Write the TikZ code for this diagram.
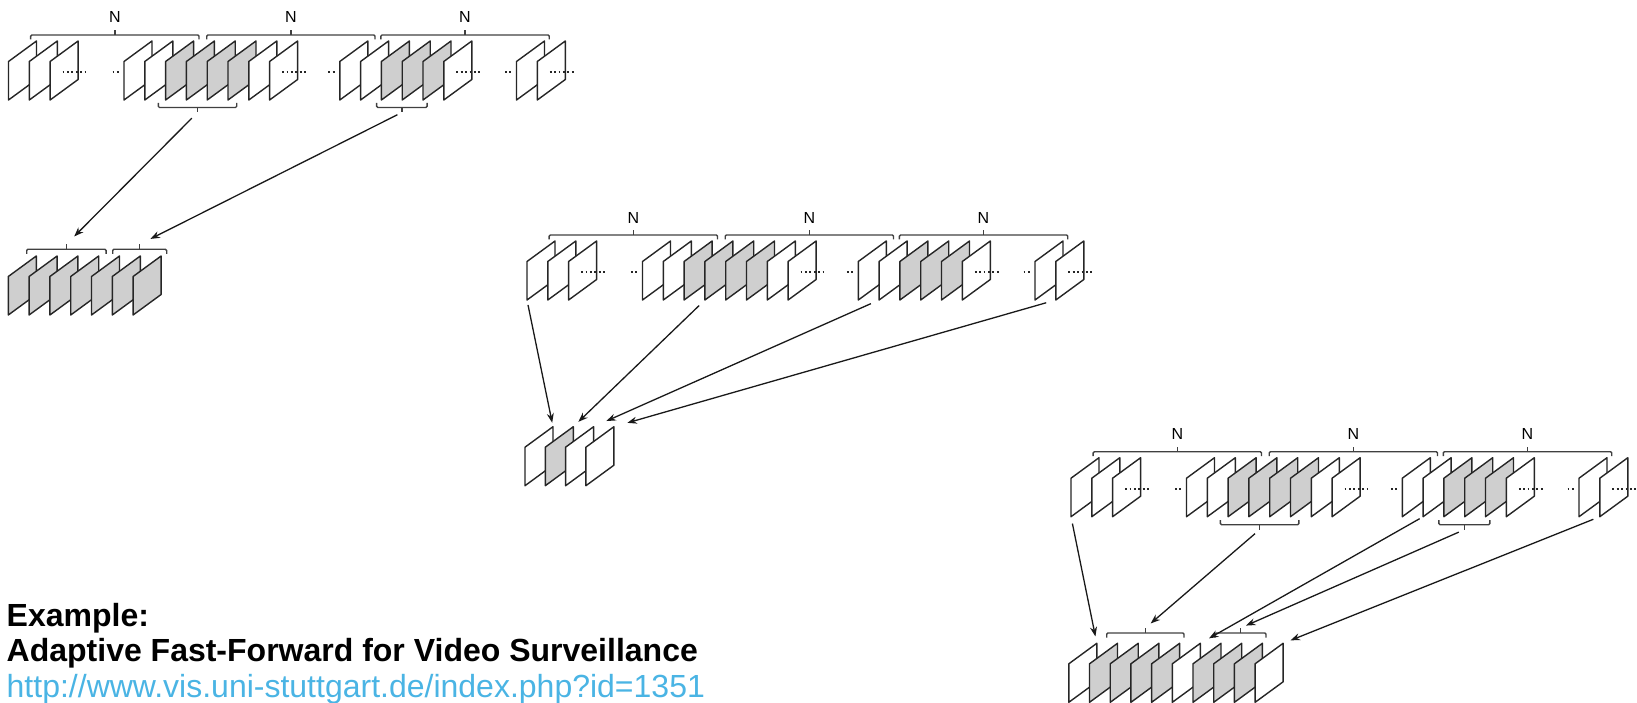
\documentclass[tikz,border=0pt]{standalone}
\usepackage{fontspec}
\setmainfont{Liberation Sans}
\usepackage{xcolor}
\usepackage{tikz}
\usetikzlibrary{arrows.meta,positioning,calc}
\definecolor{vidLine}{HTML}{262626}
\definecolor{vidGray}{HTML}{CFCFCF}
\definecolor{vidBrace}{HTML}{404040}
\definecolor{vidLink}{HTML}{4AB4E4}
\tikzset{
  frameEdge/.style={
    draw=vidLine,
    line width=1.4pt,
    line join=round
  },
  braceLine/.style={
    draw=vidBrace,
    line width=1.4pt,
    rounded corners=1.2pt
  },
  gapDots/.style={
    draw=vidLine,
    line width=1.8pt,
    dash pattern=on 1.8pt off 2.6pt
  },
  selArrow/.style={
    -{Stealth[length=9.5pt,width=7pt]},
    line width=1.3pt,
    draw=black!90
  },
  nLabel/.style={
    font=\fontsize{16}{18}\selectfont,
    inner sep=0pt
  },
  titleText/.style={
    font=\fontsize{32}{35}\selectfont\bfseries,
    inner sep=0pt,
    anchor=base west
  },
  linkText/.style={
    titleText,
    font=\fontsize{32}{35}\selectfont,
    text=vidLink
  },
  % one video frame, origin at its lower left corner
  pics/vidframe/.style={code={
    \path[frameEdge, fill=#1] (0,0) -- (0,-38.5) -- (28,-59) -- (28,-20.5) -- cycle;
    \coordinate (-bl) at (0,0);
    \coordinate (-tr) at (28,-59);
  }},
  pics/vidframe/.default=white,
  % bracket over frames, #1 = half width
  pics/topbrace/.style={code={
    \draw[braceLine] (-#1,4.5) -- (-#1,0) -- (#1,0) -- (#1,4.5);
    \draw[braceLine] (0,0) -- (0,-5);
    \coordinate (-tip) at (0,-5);
  }},
  % bracket under frames
  pics/lowbrace/.style={code={
    \draw[braceLine] (-#1,-4.5) -- (-#1,0) -- (#1,0) -- (#1,-4.5);
    \draw[braceLine] (0,0) -- (0,5);
    \coordinate (-tip) at (0,5);
  }},
  % the input video: blocks of N frames
  framerow/.pic={
    \foreach \k in {0,1,2}
      \pic (-a\k) at ({8.5+20.8*\k},100) {vidframe};
    \foreach \k/\fc in {0/white,1/white,2/vidGray,3/vidGray,4/vidGray,5/vidGray,6/white,7/white}
      \pic (-b\k) at ({124+20.8*\k},100) {vidframe=\fc};
    \foreach \k/\fc in {0/white,1/white,2/vidGray,3/vidGray,4/vidGray,5/white}
      \pic (-c\k) at ({339.8+20.8*\k},100) {vidframe=\fc};
    \foreach \k in {0,1}
      \pic (-d\k) at ({516.5+20.8*\k},100) {vidframe};
    \draw[gapDots] (62.6,72) -- (88.6,72);
    \draw[gapDots] (112.5,72) -- (120,72);
    \draw[gapDots] (282.1,72) -- (308.1,72);
    \draw[gapDots] (328.3,72) -- (335.8,72);
    \draw[gapDots] (456.3,72) -- (482.3,72);
    \draw[gapDots] (505,72) -- (512.5,72);
    \draw[gapDots] (549.8,72) -- (575.8,72);
    \pic (-n1) at (114.8,35) {topbrace=84.2};
    \pic (-n2) at (290.85,35) {topbrace=84.15};
    \pic (-n3) at (465,35) {topbrace=84.2};
    \node[nLabel] (-l1) at (114.8,17.5) {N};
    \node[nLabel] (-l2) at (290.85,17.5) {N};
    \node[nLabel] (-l3) at (465,17.5) {N};
  }
}

\begin{document}
\begin{tikzpicture}[x=1pt, y=-1pt]
  \useasboundingbox (0,0) rectangle (1637,703);

  \pic (top) at (0,0) {framerow};
  \pic (mid) at (518.5,200) {framerow};
  \pic (bot) at (1062.5,416.7) {framerow};

  \pic (topsel1) at (197.5,107.5) {lowbrace=39.2};
  \pic (topsel2) at (401.85,107.5) {lowbrace=25.2};
  \pic (botsel1) at (1259.6,524.7) {lowbrace=39.2};
  \pic (botsel2) at (1464.3,524.7) {lowbrace=25.5};

  % shortened videos
  \foreach \k in {0,...,6}
    \pic (res\k) at ({8.3+20.8*\k},315) {vidframe=vidGray};
  \pic (rb1) at (66.4,249.3) {topbrace=39.7};
  \pic (rb2) at (139.7,249.3) {topbrace=27};

  \foreach \k/\fc in {0/white,1/vidGray,2/white,3/white}
    \pic (mres\k) at ({525+20.3*\k},485.7) {vidframe=\fc};

  \foreach \k/\fc in {0/white,1/vidGray,2/vidGray,3/vidGray,4/vidGray,5/white,6/vidGray,7/vidGray,8/vidGray,9/white}
    \pic (bres\k) at ({1068.8+20.7*\k},702.3) {vidframe=\fc};
  \pic (br1) at (1145.35,633) {topbrace=38.65};
  \pic (br2) at (1240.5,633) {topbrace=25.5};

  \draw[selArrow, shorten <=8pt, shorten >=11pt] (topsel1-tip) -- (rb1-tip);
  \draw[selArrow, shorten <=5pt, shorten >=12pt] (topsel2-tip) -- (rb2-tip);

  \draw[selArrow, shorten <=5pt, shorten >=4pt] (mid-a0-bl) -- (mres0-tr);
  \draw[selArrow, shorten <=8pt, shorten >=7pt] (mid-b3-bl) -- (mres1-tr);
  \draw[selArrow, shorten <=9pt, shorten >=14pt] (mid-c1-bl) -- (mres2-tr);
  \draw[selArrow, shorten <=10pt, shorten >=14pt] (mid-d1-bl) -- (mres3-tr);

  \draw[selArrow, shorten <=7pt, shorten >=7pt] (bot-a0-bl) -- (bres0-tr);
  \draw[selArrow, shorten <=6pt, shorten >=7pt] (botsel1-tip) -- (br1-tip);
  \draw[selArrow, shorten <=4pt, shorten >=10pt] (bot-c1-bl) -- (bres5-tr);
  \draw[selArrow, shorten <=6pt, shorten >=6pt] (botsel2-tip) -- (br2-tip);
  \draw[selArrow, shorten <=7pt, shorten >=8pt] (bot-d1-bl) -- (bres9-tr);

  \node[titleText] (exhead) at (6.5,626.5) {Example:};
  \node[titleText] (extitle) at (6.5,661.5) {Adaptive Fast-Forward for Video Surveillance};
  \node[linkText] (exlink) at (6.5,697) {http://www.vis.uni-stuttgart.de/index.php?id=1351};
\end{tikzpicture}
\end{document}
